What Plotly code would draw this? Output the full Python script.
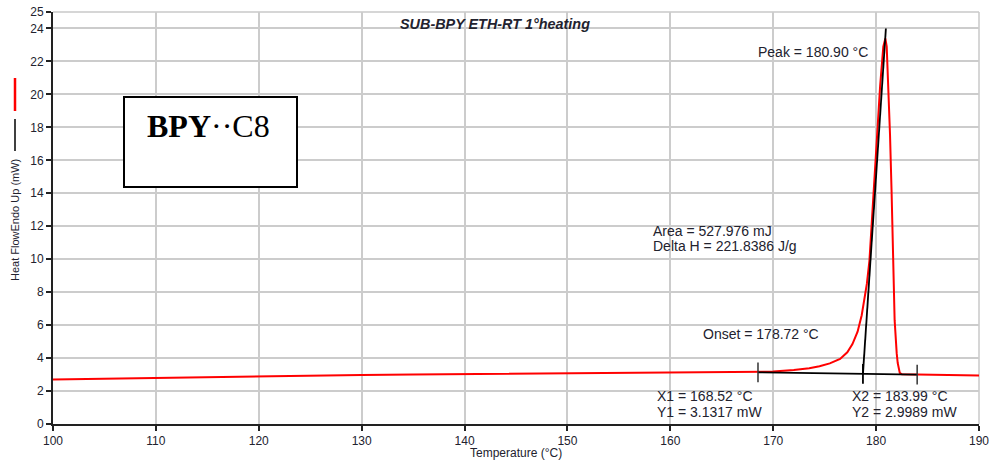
import plotly.graph_objects as go

# Heat-flow trace (endo up), temperature in °C, heat flow in mW
temperature = [100, 102, 105, 110, 115, 120, 125, 130, 135, 140, 145, 150, 155, 160,
               165, 168.5, 170, 172, 173.5, 174.5, 175.5, 176.5, 177.2, 177.7, 178.2,
               178.6, 178.9, 179.1, 179.35, 179.75, 180.07, 180.39, 180.7, 180.9,
               181.03, 181.2, 181.35, 181.5, 181.64, 181.8, 182.0, 182.1, 182.3,
               182.5, 184, 187, 188, 190]
heat_flow = [2.70, 2.72, 2.76, 2.82, 2.87, 2.91, 2.95, 2.98, 3.01, 3.03, 3.06, 3.08, 3.09,
             3.12, 3.13, 3.14, 3.18, 3.27, 3.38, 3.50, 3.68, 3.95, 4.35, 4.85, 5.60,
             6.60, 7.60, 8.50, 9.90, 14.0, 17.25, 20.5, 22.9, 23.4,
             22.9, 20.5, 17.6, 14.2, 10.0, 6.3, 4.3, 3.7, 3.1,
             3.02, 3.00, 2.99, 2.96, 2.95]

# Integration limits and peak analysis results
x1, y1 = 168.52, 3.1317
x2, y2 = 183.99, 2.9989
onset = 178.72
onset_baseline = 3.044
tangent_top = (180.95, 24.0)
peak_temp = 180.90
area_mj = 527.976
delta_h = 221.8386
limit_half = 0.6

x_ticks = [100, 110, 120, 130, 140, 150, 160, 170, 180, 190]
y_ticks = [0, 2, 4, 6, 8, 10, 12, 14, 16, 18, 20, 22, 24, 25]

TEXT = "#22222e"
FONT = "Liberation Sans, Arial, sans-serif"

fig = go.Figure()

fig.add_trace(go.Scatter(x=temperature, y=heat_flow, mode="lines",
                         line=dict(color="#ff0000", width=2), hoverinfo="skip"))

# baseline between the limits
fig.add_trace(go.Scatter(x=[x1, x2], y=[y1, y2], mode="lines",
                         line=dict(color="#000000", width=1.8), hoverinfo="skip"))
# limit markers
for xv, yv in [(x1, y1), (x2, y2)]:
    fig.add_trace(go.Scatter(x=[xv, xv], y=[yv - limit_half, yv + limit_half], mode="lines",
                             line=dict(color="#333333", width=1.5), hoverinfo="skip"))
# onset marker and tangent of the leading edge
fig.add_trace(go.Scatter(x=[onset, onset], y=[onset_baseline - limit_half, onset_baseline + limit_half],
                         mode="lines", line=dict(color="#000000", width=1.8), hoverinfo="skip"))
fig.add_trace(go.Scatter(x=[onset, tangent_top[0]], y=[onset_baseline, tangent_top[1]],
                         mode="lines", line=dict(color="#000000", width=1.8), hoverinfo="skip"))

ann_font = dict(family=FONT, size=14, color=TEXT)
notes = [
    (179.4, 22.6, "right", f"Peak = {peak_temp:.2f} °C"),
    (158.1, 11.73, "left", f"Area = {area_mj:.3f} mJ"),
    (158.1, 10.78, "left", f"Delta H = {delta_h:.4f} J/g"),
    (163.0, 5.48, "left", f"Onset = {onset:.2f} °C"),
    (158.5, 1.72, "left", f"X1 = {x1:.2f} °C"),
    (158.5, 0.70, "left", f"Y1 = {y1:.4f} mW"),
    (177.45, 1.72, "left", f"X2 = {x2:.2f} °C"),
    (177.45, 0.70, "left", f"Y2 = {y2:.4f} mW"),
]
annotations = [dict(x=x, y=y, xref="x", yref="y", text=t, showarrow=False,
                    xanchor=a, yanchor="middle", font=ann_font) for x, y, a, t in notes]

annotations += [
    dict(x=(495 - 53) / 926, y=(424 - 24) / 412, xref="paper", yref="paper",
         text="<b><i>SUB-BPY ETH-RT 1°heating</i></b>", showarrow=False,
         xanchor="center", yanchor="middle",
         font=dict(family=FONT, size=14.4, color=TEXT)),
    dict(x=0.5, y=(424 - 453) / 412, xref="paper", yref="paper",
         text="Temperature (°C)", showarrow=False, xanchor="center", yanchor="middle",
         font=dict(family=FONT, size=12, color=TEXT)),
    dict(x=(15 - 53) / 926, y=(424 - 220) / 412, xref="paper", yref="paper",
         text="Heat FlowEndo Up (mW)", showarrow=False, textangle=-90,
         xanchor="center", yanchor="middle",
         font=dict(family=FONT, size=11, color=TEXT)),
    dict(x=(145 - 53) / 926, y=(424 - 126) / 412, xref="paper", yref="paper",
         text="<b>BPY</b>··C8", showarrow=False, xanchor="left", yanchor="middle",
         font=dict(family="Liberation Serif, Times New Roman, serif", size=32, color="#000000")),
]

shapes = [
    # sample label box
    dict(type="rect", xref="paper", yref="paper",
         x0=(124 - 53) / 926, x1=(297 - 53) / 926,
         y0=(424 - 187) / 412, y1=(424 - 97) / 412,
         line=dict(color="#000000", width=2), fillcolor="white", layer="above"),
    # series keys beside the y title
    dict(type="line", xref="paper", yref="paper",
         x0=(15 - 53) / 926, x1=(15 - 53) / 926,
         y0=(424 - 78) / 412, y1=(424 - 111) / 412,
         line=dict(color="#ff0000", width=2.5)),
    dict(type="line", xref="paper", yref="paper",
         x0=(15 - 53) / 926, x1=(15 - 53) / 926,
         y0=(424 - 119) / 412, y1=(424 - 151) / 412,
         line=dict(color="#000000", width=1.5)),
    # frame top and right
    dict(type="line", xref="paper", yref="paper", x0=0, x1=1, y0=1, y1=1,
         line=dict(color="#c8c8c8", width=1.5), layer="below"),
    dict(type="line", xref="paper", yref="paper", x0=1, x1=1, y0=0, y1=1,
         line=dict(color="#c8c8c8", width=1.5), layer="below"),
]

fig.update_layout(
    width=993, height=463,
    margin=dict(l=53, r=14, t=12, b=39, autoexpand=False),
    paper_bgcolor="white", plot_bgcolor="white",
    showlegend=False,
    annotations=annotations,
    shapes=shapes,
    font=dict(family=FONT, color=TEXT),
)
fig.update_xaxes(range=[100, 190], tickvals=x_ticks, showgrid=True, gridcolor="#cccccc",
                 gridwidth=1.5, showline=True, linecolor="#222222", linewidth=2,
                 ticks="outside", ticklen=5, tickwidth=1.5, tickcolor="#222222",
                 tickfont=dict(family=FONT, size=12, color=TEXT), zeroline=False,
                 automargin=False)
fig.update_yaxes(range=[0, 25], tickvals=y_ticks, showgrid=True, gridcolor="#cccccc",
                 gridwidth=1.5, showline=True, linecolor="#222222", linewidth=2,
                 ticks="outside", ticklen=5, tickwidth=1.5, tickcolor="#222222",
                 tickfont=dict(family=FONT, size=12, color=TEXT), zeroline=False,
                 automargin=False)

fig.write_html("out.html")
